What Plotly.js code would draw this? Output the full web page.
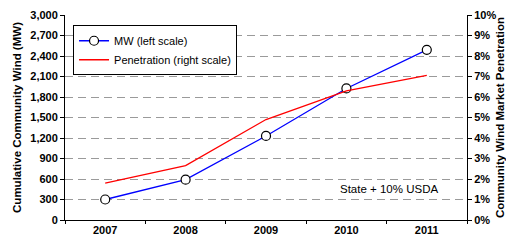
<!DOCTYPE html>
<html>
<head>
<meta charset="utf-8">
<script src="https://cdn.plot.ly/plotly-3.0.1.min.js"></script>
<style>html,body{margin:0;padding:0;background:#fff;}#chart{width:506px;height:240px;}</style>
</head>
<body>
<div id="chart"></div>
<script>
var years = ["2007", "2008", "2009", "2010", "2011"];
var mwValues = [300, 590, 1230, 1925, 2490];
var penetrationValues = [0.018, 0.0265, 0.049, 0.063, 0.0705];
var leftTicks = [0, 300, 600, 900, 1200, 1500, 1800, 2100, 2400, 2700, 3000];
var rightTicks = [0, 0.01, 0.02, 0.03, 0.04, 0.05, 0.06, 0.07, 0.08, 0.09, 0.10];

var font = "Liberation Sans, Arial, sans-serif";

var traces = [
  {
    x: years, y: mwValues, name: "MW (left scale)", type: "scatter", mode: "lines+markers",
    line: {color: "#0000FF", width: 1.3},
    marker: {symbol: "circle", size: 9, color: "#FFFFFF", line: {color: "#000000", width: 1.2}},
    yaxis: "y"
  },
  {
    x: years, y: penetrationValues, name: "Penetration (right scale)", type: "scatter", mode: "lines",
    line: {color: "#FF0000", width: 1.3},
    yaxis: "y2"
  }
];

var layout = {
  width: 506, height: 240,
  margin: {l: 65, r: 39, t: 15, b: 20, pad: 0},
  paper_bgcolor: "#FFFFFF", plot_bgcolor: "#FFFFFF",
  font: {family: font, size: 11, color: "#000000"},
  showlegend: true,
  legend: {
    x: 0.02, y: 0.95, xanchor: "left", yanchor: "top",
    bgcolor: "#FFFFFF", bordercolor: "#000000", borderwidth: 1,
    font: {family: font, size: 11, color: "#000000"},
    tracegroupgap: 0
  },
  xaxis: {
    type: "category", range: [-0.5, 4.5],
    showline: true, linecolor: "#000000", linewidth: 1,
    ticks: "outside", ticklen: 3, tickcolor: "#000000", tickson: "boundaries",
    showgrid: false, zeroline: false, fixedrange: true,
    tickfont: {family: font, size: 11, color: "#000000", weight: "bold"}
  },
  yaxis: {
    range: [0, 3000], tickvals: leftTicks, tickformat: ",",
    showline: true, linecolor: "#000000", linewidth: 1,
    ticks: "outside", ticklen: 4, tickcolor: "#000000",
    showgrid: true, gridcolor: "#9A9A9A", griddash: "8px,5px", gridwidth: 1,
    zeroline: false,
    tickfont: {family: font, size: 11, color: "#000000", weight: "bold"},
    title: {text: "Cumulative Community Wind (MW)", font: {family: font, size: 11.5, color: "#000000", weight: "bold"}, standoff: 6}
  },
  yaxis2: {
    overlaying: "y", side: "right", range: [0, 0.1], tickvals: rightTicks, tickformat: ".0%",
    showline: true, linecolor: "#000000", linewidth: 1,
    ticks: "outside", ticklen: 4, tickcolor: "#000000",
    showgrid: false, zeroline: false,
    tickfont: {family: font, size: 11, color: "#000000", weight: "bold"},
    title: {text: "Community Wind Market Penetration", font: {family: font, size: 11.5, color: "#000000", weight: "bold"}, standoff: 18}
  },
  annotations: [
    {xref: "paper", yref: "paper", x: 0.805, y: 0.15, xanchor: "center", yanchor: "middle",
     text: "State + 10% USDA", showarrow: false, font: {family: font, size: 11.5, color: "#000000"}}
  ]
};

Plotly.newPlot("chart", traces, layout, {displayModeBar: false, staticPlot: true});
</script>
</body>
</html>
